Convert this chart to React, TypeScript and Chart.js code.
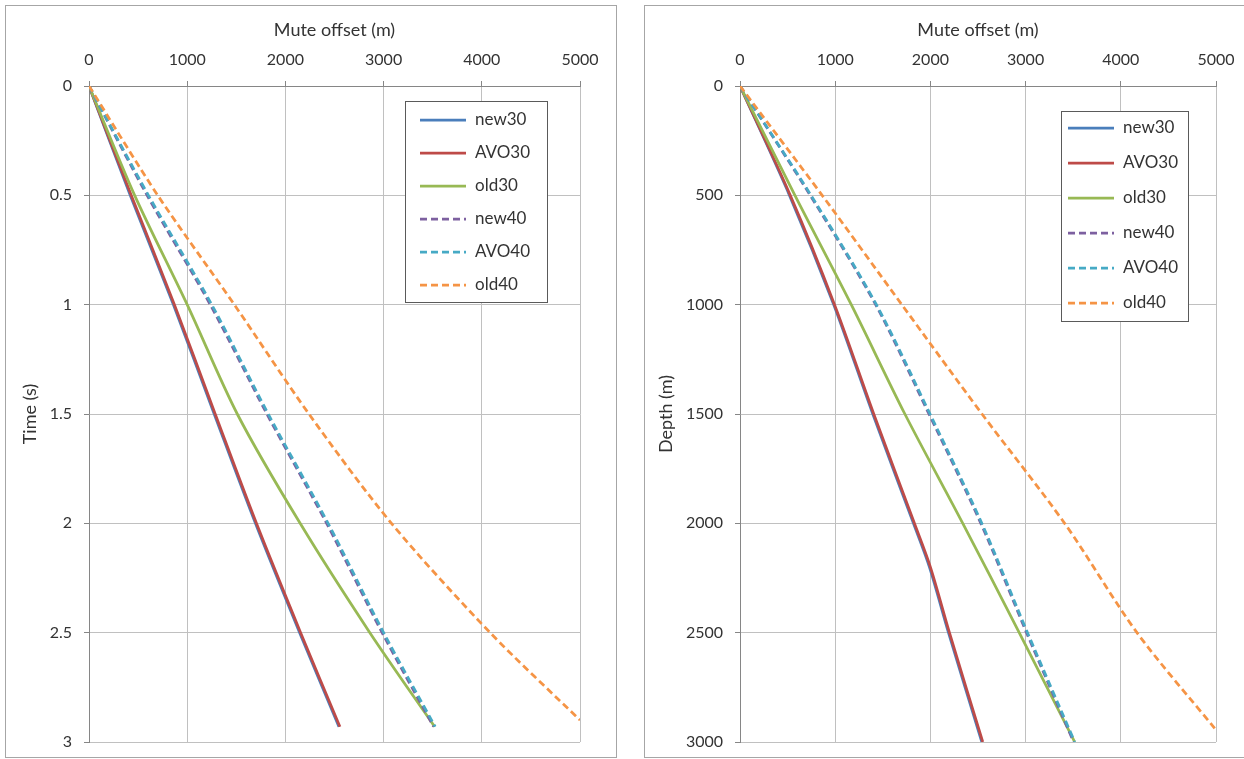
import React, { useEffect, useRef } from 'react';
import { Chart, registerables } from 'chart.js';

Chart.register(...registerables);

// ---------- data ----------
const SERIES_NAMES = ['new30', 'AVO30', 'old30', 'new40', 'AVO40', 'old40'];
const SERIES_COLORS = ['#4A7EBB', '#BE4B48', '#98B954', '#7D60A0', '#46AAC5', '#F59445'];
const SERIES_DASHED = [false, false, false, true, true, true];

const OFFSET_TICKS = [0, 1000, 2000, 3000, 4000, 5000];
const TIME_TICKS = [0, 0.5, 1, 1.5, 2, 2.5, 3];
const DEPTH_TICKS = [0, 500, 1000, 1500, 2000, 2500, 3000];

// Left panel: time (s) vs mute offset (m)
const TIME_S = [0, 0.5, 1, 1.5, 2, 2.5, 2.93];
const TIME_S_OLD40 = [0, 0.5, 1, 1.5, 2, 2.5, 2.9];
const T_NEW30 = [0, 420, 860, 1275, 1695, 2145, 2545];
const T_AVO30 = [0, 430, 870, 1285, 1705, 2155, 2555];
const T_OLD30 = [0, 465, 1000, 1510, 2150, 2860, 3520];
const T_NEW40 = [0, 592, 1235, 1812, 2420, 2985, 3510];
const T_AVO40 = [0, 605, 1250, 1825, 2435, 3000, 3525];
const T_OLD40 = [0, 700, 1480, 2240, 3080, 4085, 5000];

// Right panel: depth (m) vs mute offset (m)
const DEPTH_M_30 = [0, 500, 1000, 1500, 2000, 2200, 2500, 3000];
const DEPTH_M = [0, 500, 1000, 1500, 2000, 2500, 3000];
const DEPTH_M_OLD40 = [0, 500, 1000, 1500, 2000, 2500, 2945];
const D_NEW30 = [0, 520, 985, 1395, 1822, 1990, 2190, 2540];
const D_AVO30 = [0, 528, 993, 1405, 1832, 2000, 2200, 2550];
const D_OLD30 = [0, 577, 1169, 1732, 2340, 2933, 3516];
const D_NEW40 = [0, 738, 1425, 1985, 2530, 3010, 3505];
const D_AVO40 = [0, 746, 1433, 1996, 2540, 3020, 3516];
const D_OLD40 = [0, 863, 1700, 2542, 3410, 4170, 5000];

// ---------- helpers ----------
const TEXT_COLOR = '#333333';
const FONT_FAMILY = 'Lato, "Open Sans", sans-serif';

function makeDatasets(offsets: number[][], verticals: number[][]) {
  return offsets.map((xs, i) => ({
    label: SERIES_NAMES[i],
    data: xs.map((x, j) => ({ x, y: verticals[i][j] })),
    borderColor: SERIES_COLORS[i],
    backgroundColor: SERIES_COLORS[i],
    borderWidth: 2.75,
    borderDash: SERIES_DASHED[i] ? [7, 4] : [],
    showLine: true,
    pointRadius: 0,
    pointHoverRadius: 0,
    fill: false,
    tension: 0.3,
    order: SERIES_NAMES.length - i,
  }));
}

const boxLegendPlugin = {
  id: 'boxLegend',
  afterDatasetsDraw(chart: any, _args: any, opts: any) {
    const { ctx } = chart;
    const { x, y, w, h, rowY0, rowStep, sampleX0, sampleX1, textX } = opts;
    ctx.save();
    ctx.fillStyle = '#ffffff';
    ctx.fillRect(x, y, w, h);
    ctx.strokeStyle = '#5a5a5a';
    ctx.lineWidth = 1;
    ctx.strokeRect(x + 0.5, y + 0.5, w, h);
    chart.data.datasets.forEach((ds: any, i: number) => {
      const yy = rowY0 + i * rowStep;
      ctx.beginPath();
      ctx.setLineDash(ds.borderDash || []);
      ctx.strokeStyle = ds.borderColor;
      ctx.lineWidth = ds.borderWidth;
      ctx.moveTo(sampleX0, yy);
      ctx.lineTo(sampleX1, yy);
      ctx.stroke();
      ctx.setLineDash([]);
      ctx.fillStyle = TEXT_COLOR;
      ctx.font = `17px ${FONT_FAMILY}`;
      ctx.textBaseline = 'middle';
      ctx.textAlign = 'left';
      ctx.fillText(ds.label, textX, yy);
    });
    ctx.restore();
  },
};

function makeConfig(opts: {
  datasets: any[];
  yTicks: number[];
  yMax: number;
  yTitle: string;
  yWidth: number;
  yTitlePad: number;
  padRight: number;
  legend: any;
}) {
  const tickFont = { size: 16, family: FONT_FAMILY };
  const titleFont = { size: 18, family: FONT_FAMILY };
  return {
    type: 'scatter',
    data: { datasets: opts.datasets },
    options: {
      responsive: false,
      animation: false,
      layout: { padding: { left: 0, top: 0, right: opts.padRight, bottom: 15 } },
      plugins: {
        legend: { display: false },
        tooltip: { enabled: false },
        boxLegend: opts.legend,
      },
      scales: {
        x: {
          type: 'linear',
          position: 'top',
          min: 0,
          max: 5000,
          afterBuildTicks: (s: any) => {
            s.ticks = OFFSET_TICKS.map((v) => ({ value: v }));
          },
          afterFit: (s: any) => {
            s.height = 80;
            s.paddingLeft = 0;
            s.paddingRight = 0;
          },
          ticks: {
            callback: (v: any) => String(v),
            padding: 12,
            color: TEXT_COLOR,
            font: tickFont,
            maxRotation: 0,
            autoSkip: false,
          },
          grid: { color: '#c0c0c0', lineWidth: 1, tickLength: 5, tickColor: '#868686' },
          border: { display: true, color: '#868686', width: 1 },
          title: {
            display: true,
            text: 'Mute offset (m)',
            color: TEXT_COLOR,
            font: titleFont,
            padding: { top: 13, bottom: 0 },
          },
        },
        y: {
          type: 'linear',
          position: 'left',
          reverse: true,
          min: 0,
          max: opts.yMax,
          afterBuildTicks: (s: any) => {
            s.ticks = opts.yTicks.map((v) => ({ value: v }));
          },
          afterFit: (s: any) => {
            s.width = opts.yWidth;
            s.paddingTop = 0;
            s.paddingBottom = 0;
          },
          ticks: {
            callback: (v: any) => String(v),
            padding: 12,
            color: TEXT_COLOR,
            font: tickFont,
            autoSkip: false,
          },
          grid: { color: '#c0c0c0', lineWidth: 1, tickLength: 5, tickColor: '#868686' },
          border: { display: true, color: '#868686', width: 1 },
          title: {
            display: true,
            text: opts.yTitle,
            color: TEXT_COLOR,
            font: titleFont,
            padding: { top: opts.yTitlePad, bottom: 0 },
          },
        },
      },
    },
    plugins: [boxLegendPlugin],
  };
}

export default function App() {
  const leftRef = useRef<HTMLCanvasElement>(null);
  const rightRef = useRef<HTMLCanvasElement>(null);

  useEffect(() => {
    const leftDatasets = makeDatasets(
      [T_NEW30, T_AVO30, T_OLD30, T_NEW40, T_AVO40, T_OLD40],
      [TIME_S, TIME_S, TIME_S, TIME_S, TIME_S, TIME_S_OLD40]
    );
    const rightDatasets = makeDatasets(
      [D_NEW30, D_AVO30, D_OLD30, D_NEW40, D_AVO40, D_OLD40],
      [DEPTH_M_30, DEPTH_M_30, DEPTH_M, DEPTH_M, DEPTH_M, DEPTH_M_OLD40]
    );
    const left = new Chart(
      leftRef.current as HTMLCanvasElement,
      makeConfig({
        datasets: leftDatasets,
        yTicks: TIME_TICKS,
        yMax: 3,
        yTitle: 'Time (s)',
        yWidth: 83,
        yTitlePad: 13,
        padRight: 36,
        legend: { x: 399, y: 95, w: 142, h: 201, rowY0: 114, rowStep: 33, sampleX0: 414, sampleX1: 460, textX: 469 },
      }) as any
    );
    const right = new Chart(
      rightRef.current as HTMLCanvasElement,
      makeConfig({
        datasets: rightDatasets,
        yTicks: DEPTH_TICKS,
        yMax: 3000,
        yTitle: 'Depth (m)',
        yWidth: 95,
        yTitlePad: 10,
        padRight: 29,
        legend: { x: 416, y: 105, w: 127, h: 210, rowY0: 122, rowStep: 35, sampleX0: 423, sampleX1: 469, textX: 478 },
      }) as any
    );
    return () => {
      left.destroy();
      right.destroy();
    };
  }, []);

  const panel: React.CSSProperties = {
    position: 'absolute',
    boxSizing: 'border-box',
    border: '1px solid #a6a6a6',
    background: '#ffffff',
  };

  return (
    <div
      style={{
        position: 'absolute',
        left: 0,
        top: 0,
        width: 1244,
        height: 759,
        overflow: 'hidden',
        background: '#ffffff',
      }}
    >
      <div style={{ ...panel, left: 5, top: 5, width: 612, height: 753 }}>
        <canvas
          ref={leftRef}
          width={610}
          height={751}
          style={{ position: 'absolute', left: 0, top: 0, width: 610, height: 751 }}
        />
      </div>
      <div style={{ ...panel, left: 644, top: 5, width: 640, height: 753 }}>
        <canvas
          ref={rightRef}
          width={600}
          height={751}
          style={{ position: 'absolute', left: 0, top: 0, width: 600, height: 751 }}
        />
      </div>
    </div>
  );
}
